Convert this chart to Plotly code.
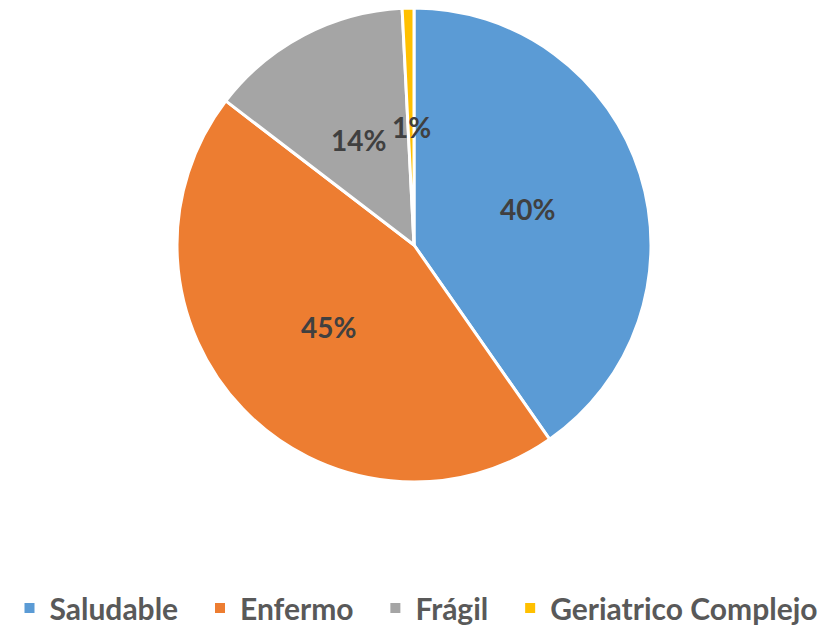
import math
import plotly.graph_objects as go

categories = ["Saludable", "Enfermo", "Frágil", "Geriatrico Complejo"]
values = [40.3, 45.1, 13.8, 0.8]
colors = ["#5B9BD5", "#ED7D31", "#A5A5A5", "#FFC000"]

W, H = 833, 627
# pie placement in pixels (centre and radius)
cx, cy, R = 414, 245, 237

# extra space after each legend entry (Excel spaces them wider than plotly)
legend_names = [c + "\u2002\u200a" if i < len(categories) - 1 else c
                for i, c in enumerate(categories)]

fig = go.Figure(go.Pie(
    labels=legend_names,
    values=values,
    sort=False,
    direction="clockwise",
    rotation=0,
    marker=dict(colors=colors, line=dict(color="white", width=3)),
    textinfo="none",
    hoverinfo="label+percent",
    domain=dict(x=[(cx - R) / W, (cx + R) / W], y=[1 - (cy + R) / H, 1 - (cy - R) / H]),
))

# percentage labels at half radius on each slice bisector (like Excel)
total = sum(values)
start = 0.0
for v in values:
    frac = v / total
    mid = (start + frac / 2) * 2 * math.pi
    start += frac
    px = cx + 0.5 * R * math.sin(mid)
    py = cy - 0.5 * R * math.cos(mid)
    fig.add_annotation(
        x=px / W, y=1 - py / H, xref="paper", yref="paper",
        xanchor="center", yanchor="middle",
        text=f"{round(frac * 100)}%", showarrow=False,
        font=dict(family="Lato", size=28, color="#404040", weight="bold"),
    )

fig.update_layout(
    width=W, height=H,
    margin=dict(l=0, r=0, t=0, b=0, autoexpand=False),
    paper_bgcolor="white",
    showlegend=True,
    legend=dict(
        orientation="h", x=0.5, xanchor="center",
        yref="container", y=1 - 608 / H, yanchor="middle",
        font=dict(family="Lato", size=30, color="#595959", weight="bold"),
        itemsizing="constant",
    ),
)

# drop the browser's default body margin so the figure sits at (0, 0)
fig.write_html("out.html", config={"displayModeBar": False},
               post_script="document.body.style.margin='0';")
